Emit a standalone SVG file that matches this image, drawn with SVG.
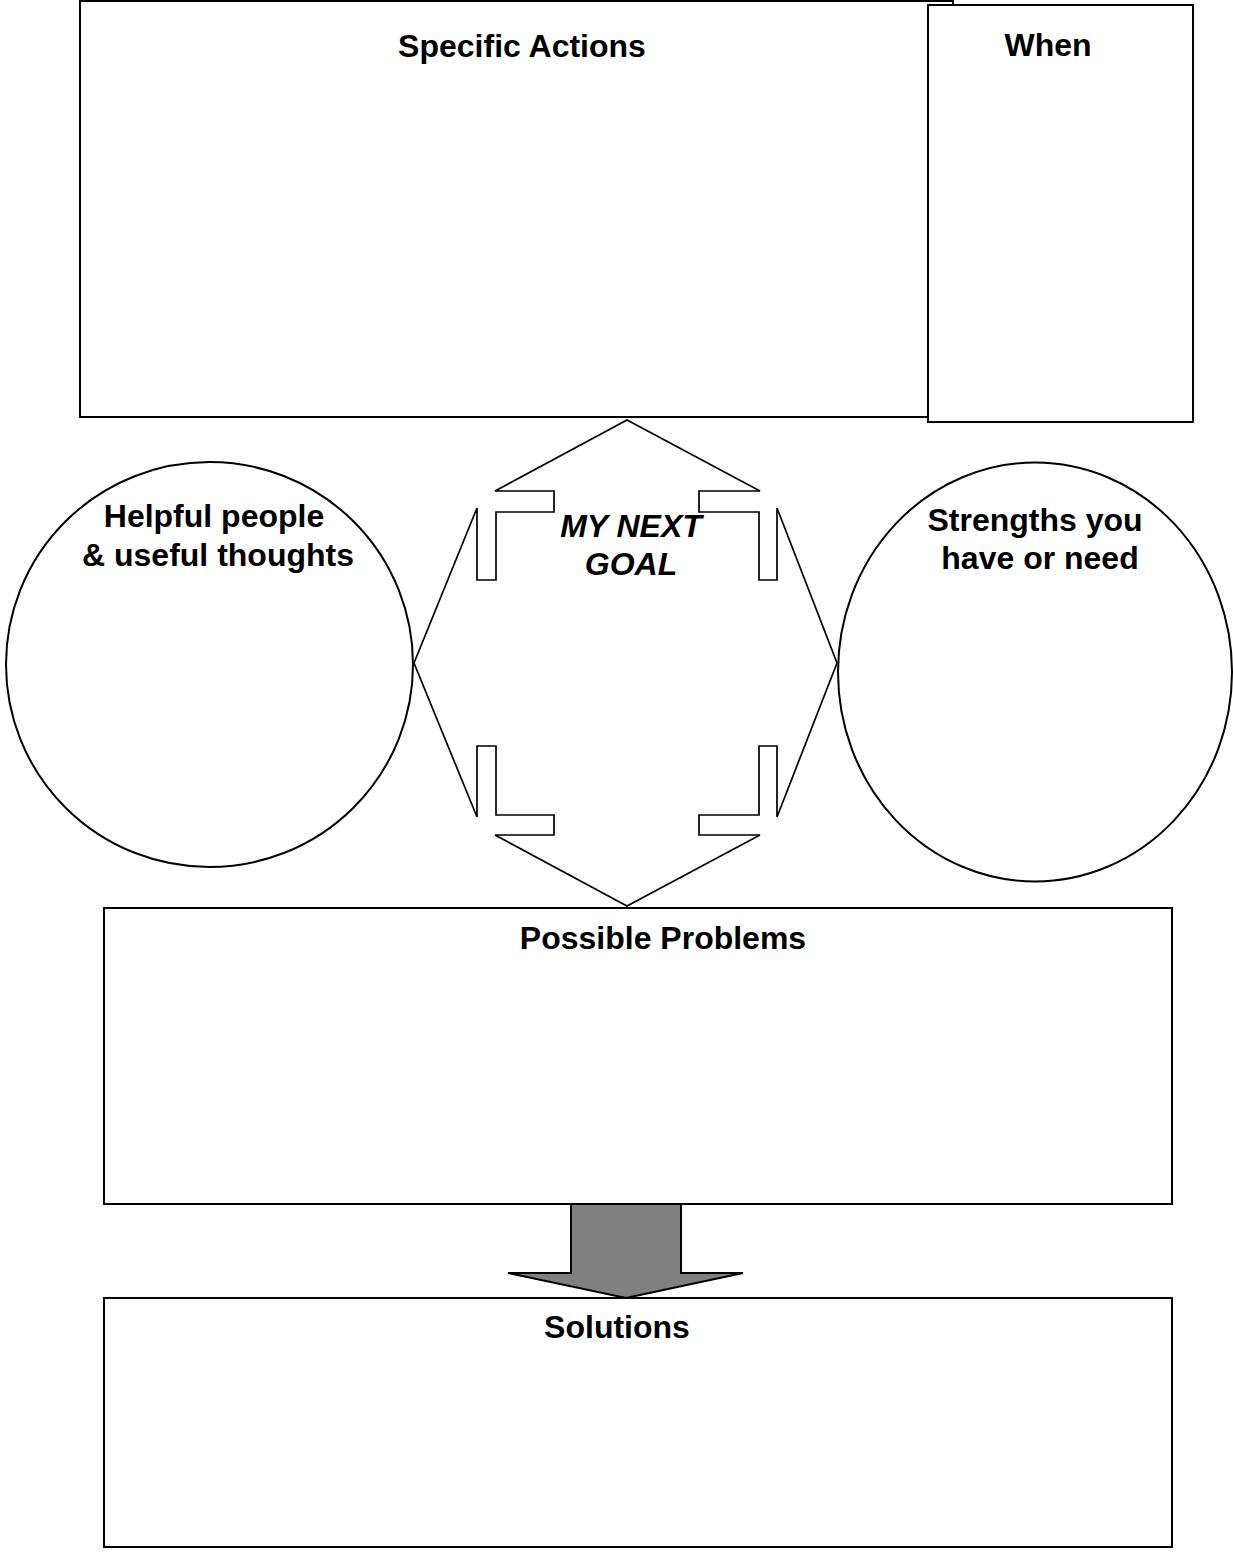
<svg xmlns="http://www.w3.org/2000/svg" width="1233" height="1554" viewBox="0 0 1233 1554">
<style>
.box{fill:#fff;stroke:#000;stroke-width:2}
.circ{fill:#fff;stroke:#000;stroke-width:2}
.lbl{font-family:"Liberation Sans",Arial,sans-serif;font-weight:bold;font-size:32px;fill:#000;text-anchor:middle}
.it{font-style:italic}
</style>
<rect width="1233" height="1554" fill="#fff"/>
<g id="specific-actions">
<rect class="box" x="80" y="1" width="873" height="416"/>
<text class="lbl" x="522" y="57">Specific Actions</text>
</g>
<g id="when">
<rect class="box" x="928" y="5" width="265" height="417"/>
<text class="lbl" x="1048" y="56">When</text>
</g>
<g id="helpful-people">
<ellipse class="circ" cx="209.5" cy="664.5" rx="203.5" ry="202.5"/>
<text class="lbl" x="214" y="527">Helpful people</text>
<text class="lbl" x="218" y="566">&amp; useful thoughts</text>
</g>
<g id="strengths">
<ellipse class="circ" cx="1035" cy="672" rx="197" ry="209.5"/>
<text class="lbl" x="1035" y="531">Strengths you</text>
<text class="lbl" x="1040" y="569">have or need</text>
</g>
<g id="my-next-goal">
<path d="M477,508 L477,580 L496,580 L496,512 L554,512 L554,491 L495,491 L627,420 L760,491 L699,491 L699,512 L759,512 L759,580 L777,580 L777,508 L837,663 L777,817 L777,746 L759,746 L759,815 L699,815 L699,835 L760,835 L627,906 L495,835 L554,835 L554,815 L496,815 L496,746 L477,746 L477,817 L414,663 Z" fill="#fff" stroke="#000" stroke-width="1.7" stroke-linejoin="miter"/>
<text class="lbl it" x="631" y="537">MY NEXT</text>
<text class="lbl it" x="631" y="575">GOAL</text>
</g>
<g id="possible-problems">
<rect class="box" x="104" y="908" width="1068" height="296"/>
<text class="lbl" x="663" y="949">Possible Problems</text>
</g>
<g id="solutions">
<rect class="box" x="104" y="1298" width="1068" height="249"/>
<text class="lbl" x="617" y="1338">Solutions</text>
</g>
<g id="connectors">
<path d="M571,1204 L681,1204 L681,1273 L743,1273 L626,1298 L508,1273 L571,1273 Z" fill="#808080" stroke="#000" stroke-width="2" stroke-linejoin="miter"/>
</g>
</svg>
